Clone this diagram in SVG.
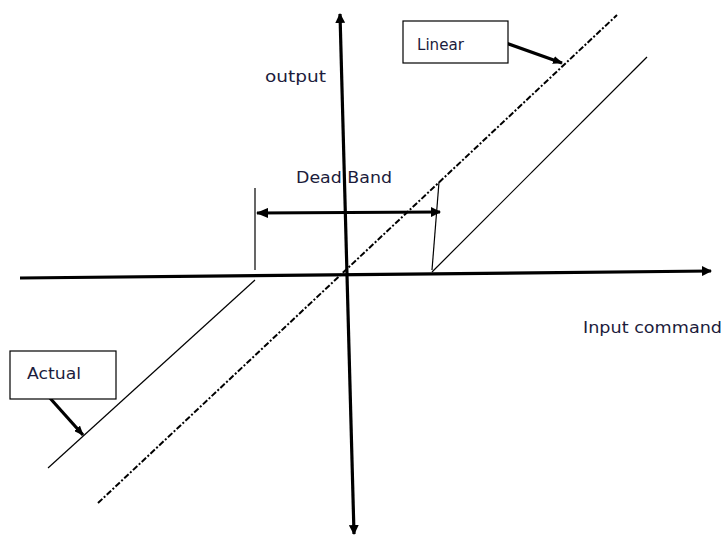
<svg xmlns="http://www.w3.org/2000/svg" width="723" height="540" viewBox="0 0 723 540">
<defs>
<marker id="ah" markerWidth="10" markerHeight="10" refX="9" refY="5" orient="auto" markerUnits="userSpaceOnUse">
<path d="M0,0 L10,5 L0,10 z" fill="#000"/>
</marker>
<marker id="ahs" markerWidth="10" markerHeight="8" refX="9" refY="4" orient="auto" markerUnits="userSpaceOnUse">
<path d="M0,0 L10,4 L0,8 z" fill="#000"/>
</marker>
<marker id="ahstart" markerWidth="12" markerHeight="10" refX="1" refY="5" orient="auto" markerUnits="userSpaceOnUse">
<path d="M12,0 L0,5 L12,10 z" fill="#000"/>
</marker>
</defs>
<style>
.axis{stroke:#000;stroke-width:3.2;fill:none}
.thin{stroke:#000;stroke-width:1.2;fill:none}
.dash{stroke:#000;stroke-width:2;fill:none;stroke-dasharray:6 2 2 2}
.box{fill:#fff;stroke:#000;stroke-width:1.2}
.lbl{font-family:"DejaVu Sans",Verdana,sans-serif;font-size:15.5px;fill:#1c1c3c}
</style>
<rect width="723" height="540" fill="#fff"/>
<g id="connectors">
<line class="axis" x1="20" y1="278" x2="711" y2="271" marker-end="url(#ah)"/>
<line class="axis" x1="347" y1="275" x2="340" y2="14" marker-end="url(#ah)"/>
<line class="axis" x1="347" y1="275" x2="354" y2="534" marker-end="url(#ah)"/>
<line class="dash" x1="98" y1="503" x2="617" y2="15"/>
<polyline class="thin" points="48,468 255,280"/>
<polyline class="thin" points="432,272 647,57"/>
<line class="thin" x1="255" y1="188" x2="255" y2="270"/>
<line class="thin" x1="439" y1="182" x2="432" y2="270"/>
<line class="axis" x1="257" y1="213" x2="440" y2="212" marker-start="url(#ahstart)" marker-end="url(#ah)"/>
<line class="axis" stroke-width="2.5" x1="506" y1="43" x2="562" y2="63" marker-end="url(#ahs)"/>
<line class="axis" stroke-width="2.5" x1="49" y1="397" x2="83" y2="435" marker-end="url(#ahs)"/>
</g>
<g id="linear">
<rect class="box" x="403" y="21" width="105" height="42"/>
<text class="lbl" x="417" y="50" textLength="47" lengthAdjust="spacingAndGlyphs">Linear</text>
</g>
<g id="actual">
<rect class="box" x="10" y="351" width="106" height="48"/>
<text class="lbl" x="27" y="379" textLength="54" lengthAdjust="spacingAndGlyphs">Actual</text>
</g>
<g id="output-label">
<text class="lbl" x="265" y="82" textLength="61" lengthAdjust="spacingAndGlyphs">output</text>
</g>
<g id="input-label">
<text class="lbl" x="583" y="333" textLength="139" lengthAdjust="spacingAndGlyphs">Input command</text>
</g>
<g id="deadband-label">
<text class="lbl" x="296" y="183" textLength="96" lengthAdjust="spacingAndGlyphs">Dead Band</text>
</g>
</svg>
